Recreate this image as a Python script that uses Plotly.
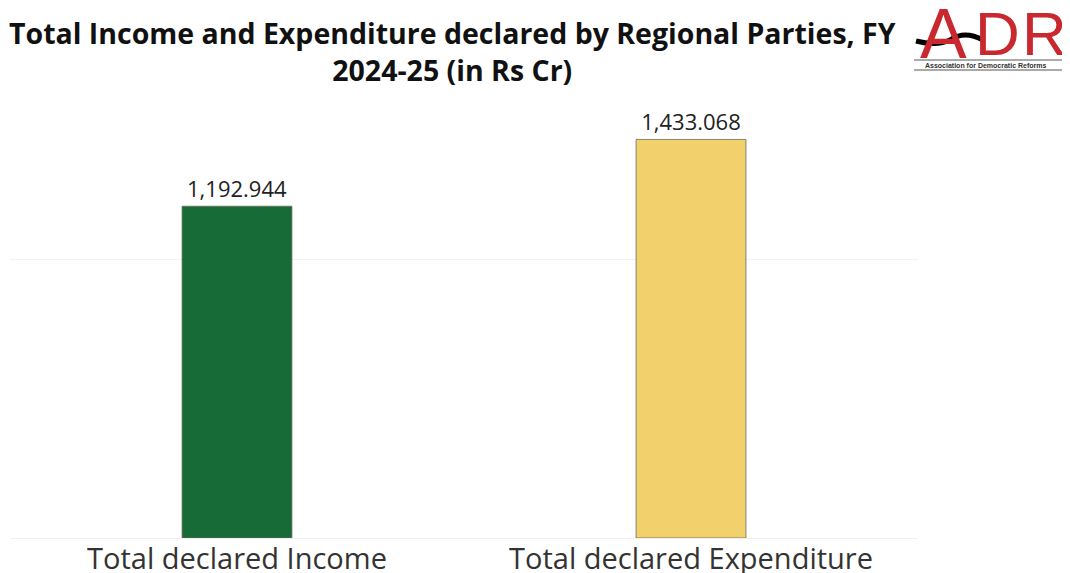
import plotly.graph_objects as go

categories = ["Total declared Income", "Total declared Expenditure"]
values = [1192.944, 1433.068]
value_labels = ["1,192.944", "1,433.068"]
bar_colors = ["#176b37", "#f2d06b"]

# page is rendered with an 8px body margin; plot area in page px: x 10..918, y 93..538
W, H = 1070, 573
OFF = 8
PL, PR, PT, PB = 10, 918, 93, 538


def px(x):
    return (x - PL) / (PR - PL)


def py(y):
    return (PB - y) / (PB - PT)


fig = go.Figure()
fig.add_trace(go.Bar(
    x=categories, y=values,
    marker=dict(color=bar_colors, line=dict(color="#6b6b5a", width=0.8)),
    width=0.242,
    text=value_labels, textposition="outside", cliponaxis=False,
    textfont=dict(family="Open Sans", size=22, color="#222222"),
))

fig.update_layout(
    width=W, height=H,
    paper_bgcolor="white", plot_bgcolor="white",
    margin=dict(l=PL - OFF, r=W - (PR - OFF), t=PT - OFF, b=H - (PB - OFF)),
    showlegend=False,
    xaxis=dict(
        showgrid=False, showline=True, linecolor="#f0f0f0", linewidth=1,
        ticks="", tickfont=dict(family="Open Sans", size=29, color="#333333"),
        ticklabelstandoff=-5,
        automargin=False,
    ),
    yaxis=dict(
        range=[0, 1600], showticklabels=False, dtick=1000,
        showgrid=True, gridcolor="#f3f3f3", gridwidth=1,
        zeroline=False, automargin=False,
    ),
)

# Title (two lines)
fig.add_annotation(text="<b>Total Income and Expenditure declared by Regional Parties, FY<br>2024-25 (in Rs Cr)</b>",
                   xref="paper", yref="paper", x=px(452), y=py(52),
                   xanchor="center", yanchor="middle", showarrow=False,
                   font=dict(family="Open Sans", size=28.5, color="#111111"))

# ADR logo
logo_red = "#c8282e"
for letter, cx, fs in [("A", 944, 70), ("D", 997, 62), ("R", 1044, 62)]:
    fig.add_annotation(text=letter, xref="paper", yref="paper", x=px(cx), y=py(34),
                       xanchor="center", yanchor="middle", showarrow=False,
                       font=dict(family="Liberation Sans", size=fs, color=logo_red))
for yline in (60, 70):
    fig.add_shape(type="line", xref="paper", yref="paper",
                  x0=px(914), x1=px(1062), y0=py(yline), y1=py(yline),
                  line=dict(color="#555555", width=1))
fig.add_annotation(text="<b>Association for Democratic Reforms</b>", xref="paper", yref="paper",
                   x=px(986), y=py(65), xanchor="center", yanchor="middle", showarrow=False,
                   font=dict(family="Liberation Sans", size=7, color="#333333"))
fig.add_shape(type="path", xref="paper", yref="paper",
              path=(f"M {px(916)} {py(41)} C {px(928)} {py(44)}, {px(940)} {py(45)}, {px(950)} {py(40)} "
                    f"C {px(960)} {py(33)}, {px(972)} {py(34)}, {px(983)} {py(40)}"),
              line=dict(color="black", width=5))

fig.write_html("out.html")
